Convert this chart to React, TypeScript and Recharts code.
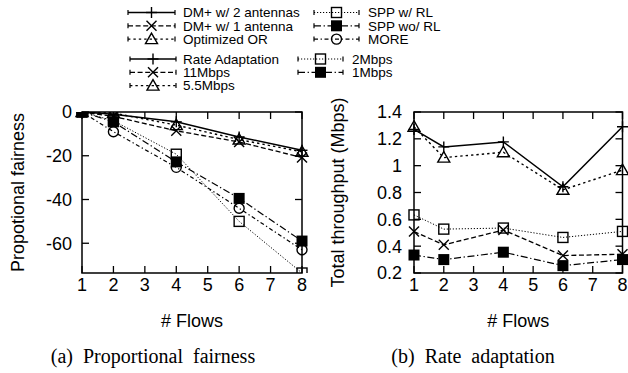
import React from 'react';
import { LineChart, Line, XAxis, YAxis, ReferenceArea, Label } from 'recharts';

// ---------- data ----------
const flows = [1, 2, 4, 6, 8];
const xTicks = [1, 2, 3, 4, 5, 6, 7, 8];

// (a) Proportional fairness
const dm2Antennas = [0, -1, -4.5, -11.4, -17.5];
const dm1Antenna = [0, -2, -8.6, -13.7, -20.8];
const optimizedOR = [0, -0.5, -6, -12.6, -18.2];
const sppWithRL = [0, -4, -19.3, -50, -73.6];
const sppWithoutRL = [0, -4.5, -22.8, -39.5, -59];
const moreValues = [0, -9, -25.3, -44, -63];
const fairnessTicks = [0, -20, -40, -60];
const fairnessDomain: [number, number] = [-73.6, 0];

// (b) Rate adaptation
const rateAdaptation = [1.27, 1.14, 1.177, 0.843, 1.29];
const rate11 = [0.509, 0.41, 0.52, 0.33, 0.34];
const rate55 = [1.29, 1.06, 1.1, 0.82, 0.967];
const rate2 = [0.633, 0.527, 0.535, 0.465, 0.51];
const rate1 = [0.334, 0.3, 0.355, 0.255, 0.3];
const throughputTicks = [0.2, 0.4, 0.6, 0.8, 1, 1.2, 1.4];
const throughputDomain: [number, number] = [0.2, 1.4];

// ---------- styles ----------
type MarkerKind = 'plus' | 'cross' | 'triangle' | 'square' | 'filledSquare' | 'circle';
type Series = { key: string; name: string; values: number[]; dash?: string; width: number; marker: MarkerKind };

const SOLID = undefined;
const DASHED = '5 2.6';
const DOTTED = '2.4 3';
const FINE = '1.2 1.8';
const DASHDOT = '7 2.6 1.3 2.6';
const DASHDOT2 = '4 2.6 1.3 2.6';

const fairnessSeries: Series[] = [
  { key: 'dm2', name: 'DM+ w/ 2 antennas', values: dm2Antennas, dash: SOLID, width: 1.5, marker: 'plus' },
  { key: 'dm1', name: 'DM+ w/ 1 antenna', values: dm1Antenna, dash: DASHED, width: 1.3, marker: 'cross' },
  { key: 'opt', name: 'Optimized OR', values: optimizedOR, dash: DOTTED, width: 1.4, marker: 'triangle' },
  { key: 'sppRL', name: 'SPP w/ RL', values: sppWithRL, dash: FINE, width: 1, marker: 'square' },
  { key: 'sppNoRL', name: 'SPP wo/ RL', values: sppWithoutRL, dash: DASHDOT, width: 1.2, marker: 'filledSquare' },
  { key: 'more', name: 'MORE', values: moreValues, dash: DASHDOT2, width: 1.2, marker: 'circle' },
];

const rateSeries: Series[] = [
  { key: 'ra', name: 'Rate Adaptation', values: rateAdaptation, dash: SOLID, width: 1.5, marker: 'plus' },
  { key: 'r11', name: '11Mbps', values: rate11, dash: DASHED, width: 1.3, marker: 'cross' },
  { key: 'r55', name: '5.5Mbps', values: rate55, dash: DOTTED, width: 1.4, marker: 'triangle' },
  { key: 'r2', name: '2Mbps', values: rate2, dash: FINE, width: 1, marker: 'square' },
  { key: 'r1', name: '1Mbps', values: rate1, dash: DASHDOT, width: 1.2, marker: 'filledSquare' },
];

const buildData = (series: Series[]) =>
  flows.map((f, i) => {
    const row: Record<string, number> = { flows: f };
    series.forEach((s) => {
      row[s.key] = s.values[i];
    });
    return row;
  });

const fairnessData = buildData(fairnessSeries);
const rateData = buildData(rateSeries);

const SANS = '"Liberation Sans", Arial, Helvetica, sans-serif';
const SERIF = '"Liberation Serif", "Times New Roman", serif';

// ---------- markers ----------
function Marker({ kind, cx, cy }: { kind: MarkerKind; cx: number; cy: number }) {
  if (cx == null || cy == null || isNaN(cx) || isNaN(cy)) return <g />;
  const sw = 1.4;
  switch (kind) {
    case 'plus':
      return (
        <g stroke="#000" strokeWidth={sw}>
          <line x1={cx - 5.5} y1={cy} x2={cx + 5.5} y2={cy} />
          <line x1={cx} y1={cy - 5.5} x2={cx} y2={cy + 5.5} />
        </g>
      );
    case 'cross':
      return (
        <g stroke="#000" strokeWidth={sw}>
          <line x1={cx - 5} y1={cy - 5} x2={cx + 5} y2={cy + 5} />
          <line x1={cx - 5} y1={cy + 5} x2={cx + 5} y2={cy - 5} />
        </g>
      );
    case 'triangle':
      return (
        <polygon
          points={`${cx},${cy - 6} ${cx - 6},${cy + 4.5} ${cx + 6},${cy + 4.5}`}
          fill="none"
          stroke="#000"
          strokeWidth={sw}
        />
      );
    case 'square':
      return <rect x={cx - 5} y={cy - 5} width={10} height={10} fill="none" stroke="#000" strokeWidth={sw} />;
    case 'filledSquare':
      return <rect x={cx - 5.5} y={cy - 5.5} width={11} height={11} fill="#000" stroke="none" />;
    case 'circle':
    default:
      return <circle cx={cx} cy={cy} r={5} fill="none" stroke="#000" strokeWidth={sw} />;
  }
}

// ---------- geometry ----------
const H = 373;
const PLOT_TOP = 112;
const PLOT_BOTTOM = 273;
const XAXIS_H = 60;
const X_MARGIN = 5.5;
const TICK_LEN = 7;

type PanelProps = {
  width: number;
  data: Record<string, number>[];
  series: Series[];
  yDomain: [number, number];
  yTicks: number[];
  yLabel: string;
  yAxisWidth: number;
  marginRight: number;
  yTickGap: number;
};

function Panel({ width, data, series, yDomain, yTicks, yLabel, yAxisWidth, marginRight, yTickGap }: PanelProps) {
  const plotW = width - yAxisWidth - marginRight;
  const plotH = PLOT_BOTTOM - PLOT_TOP;

  const xTick = (props: any) => {
    const { x, y, payload } = props;
    const axisY = y - X_MARGIN;
    return (
      <g>
        <line x1={x} y1={axisY} x2={x} y2={axisY - TICK_LEN} stroke="#000" strokeWidth={1.3} />
        <line x1={x} y1={axisY - plotH} x2={x} y2={axisY - plotH + TICK_LEN} stroke="#000" strokeWidth={1.3} />
        <text x={x} y={y} dy="0.72em" textAnchor="middle" fontSize={18} fontFamily={SANS} fill="#000">
          {payload.value}
        </text>
      </g>
    );
  };

  const yTick = (props: any) => {
    const { x, y, payload } = props;
    const axisX = x + yTickGap;
    return (
      <g>
        <line x1={axisX} y1={y} x2={axisX + TICK_LEN} y2={y} stroke="#000" strokeWidth={1.3} />
        <line x1={axisX + plotW} y1={y} x2={axisX + plotW - TICK_LEN} y2={y} stroke="#000" strokeWidth={1.3} />
        <text x={x} y={y} dy="0.36em" textAnchor="end" fontSize={18} fontFamily={SANS} fill="#000">
          {String(payload.value)}
        </text>
      </g>
    );
  };

  const xLabel = (props: any) => {
    const vb = props.viewBox || { x: yAxisWidth, y: PLOT_BOTTOM, width: plotW, height: XAXIS_H };
    return (
      <text
        x={vb.x + vb.width / 2}
        y={vb.y + 48}
        textAnchor="middle"
        dominantBaseline="central"
        fontSize={18}
        fontFamily={SANS}
        fill="#000"
      >
        # Flows
      </text>
    );
  };

  const yLabelContent = (props: any) => {
    const vb = props.viewBox || { x: 0, y: PLOT_TOP, width: yAxisWidth, height: plotH };
    const cx = vb.x + 18;
    const cy = vb.y + vb.height / 2;
    return (
      <text
        x={cx}
        y={cy}
        transform={`rotate(-90 ${cx} ${cy})`}
        textAnchor="middle"
        dominantBaseline="central"
        fontSize={18}
        fontFamily={SANS}
        fill="#000"
      >
        {yLabel}
      </text>
    );
  };

  return (
    <LineChart
      width={width}
      height={H}
      data={data}
      margin={{ top: PLOT_TOP, right: marginRight, bottom: H - PLOT_BOTTOM - XAXIS_H, left: 0 }}
    >
      <XAxis
        dataKey="flows"
        type="number"
        domain={[1, 8]}
        ticks={xTicks}
        interval={0}
        tickSize={0}
        tickMargin={X_MARGIN}
        tickLine={false}
        axisLine={false}
        height={XAXIS_H}
        tick={xTick}
      >
        <Label content={xLabel} />
      </XAxis>
      <YAxis
        type="number"
        domain={yDomain}
        ticks={yTicks}
        interval={0}
        allowDataOverflow
        width={yAxisWidth}
        tickSize={0}
        tickMargin={yTickGap}
        tickLine={false}
        axisLine={false}
        tick={yTick}
      >
        <Label content={yLabelContent} />
      </YAxis>
      {series.map((s) => (
        <Line
          key={s.key}
          dataKey={s.key}
          name={s.name}
          type="linear"
          stroke="#000"
          strokeWidth={s.width}
          strokeDasharray={s.dash}
          isAnimationActive={false}
          activeDot={false}
          dot={(p: any) => <Marker key={`${s.key}-${p.index}`} kind={s.marker} cx={p.cx} cy={p.cy} />}
        />
      ))}
      <ReferenceArea
        x1={1}
        x2={8}
        y1={yDomain[0]}
        y2={yDomain[1]}
        fill="none"
        fillOpacity={0}
        stroke="#000"
        strokeWidth={1.5}
        ifOverflow="visible"
      />
    </LineChart>
  );
}

// ---------- legend ----------
type LegendColumn = { series: Series[]; x0: number; x1: number; textX: number; y0: number };

function LegendColumnView({ col }: { col: LegendColumn }) {
  return (
    <g>
      {col.series.map((s, i) => {
        const y = col.y0 + i * 13.3;
        return (
          <g key={s.key}>
            <line x1={col.x0} y1={y} x2={col.x1} y2={y} stroke="#000" strokeWidth={s.width} strokeDasharray={s.dash} />
            <line x1={col.x0} y1={y - 2.5} x2={col.x0} y2={y + 2.5} stroke="#000" strokeWidth={1.2} />
            <line x1={col.x1} y1={y - 2.5} x2={col.x1} y2={y + 2.5} stroke="#000" strokeWidth={1.2} />
            <Marker kind={s.marker} cx={(col.x0 + col.x1) / 2} cy={y} />
            <text x={col.textX} y={y} dy="0.36em" fontSize={13.5} fontFamily={SANS} fill="#000">
              {s.name}
            </text>
          </g>
        );
      })}
    </g>
  );
}

const legendColumns: LegendColumn[] = [
  { series: fairnessSeries.slice(0, 3), x0: 128, x1: 175, textX: 183, y0: 12.5 },
  { series: fairnessSeries.slice(3), x0: 314, x1: 359, textX: 368, y0: 12.5 },
  { series: rateSeries.slice(0, 3), x0: 130, x1: 176, textX: 183, y0: 59 },
  { series: rateSeries.slice(3), x0: 298, x1: 343, textX: 352, y0: 59 },
];

export default function App() {
  return (
    <div style={{ position: 'absolute', left: 0, top: 0, width: 628, height: 373, background: '#fff', overflow: 'hidden' }}>
      <div style={{ position: 'absolute', left: 0, top: 0 }}>
        <Panel
          width={320}
          data={fairnessData}
          series={fairnessSeries}
          yDomain={fairnessDomain}
          yTicks={fairnessTicks}
          yLabel="Propotional fairness"
          yAxisWidth={82}
          marginRight={18}
          yTickGap={10}
        />
      </div>
      <div style={{ position: 'absolute', left: 320, top: 0 }}>
        <Panel
          width={308}
          data={rateData}
          series={rateSeries}
          yDomain={throughputDomain}
          yTicks={throughputTicks}
          yLabel="Total throughput (Mbps)"
          yAxisWidth={94}
          marginRight={5.5}
          yTickGap={12}
        />
      </div>
      <svg
        width={628}
        height={373}
        style={{ position: 'absolute', left: 0, top: 0, pointerEvents: 'none' }}
      >
        {legendColumns.map((c, i) => (
          <LegendColumnView key={i} col={c} />
        ))}
        <text x={153} y={356} textAnchor="middle" dominantBaseline="central" fontSize={20} fontFamily={SERIF} wordSpacing={5} fill="#000">
          (a) Proportional fairness
        </text>
        <text x={473} y={356} textAnchor="middle" dominantBaseline="central" fontSize={20} fontFamily={SERIF} wordSpacing={5} fill="#000">
          (b) Rate adaptation
        </text>
      </svg>
    </div>
  );
}
